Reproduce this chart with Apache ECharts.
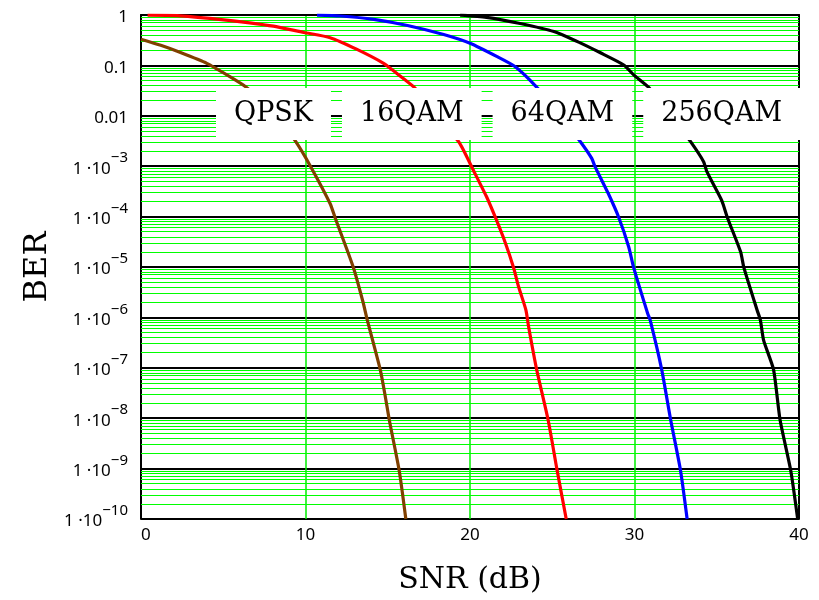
<!DOCTYPE html>
<html>
<head>
<meta charset="utf-8">
<script src="https://cdn.jsdelivr.net/npm/echarts@6/dist/echarts.min.js"></script>
<style>
  html, body { margin: 0; padding: 0; background: #fff; }
  #main { width: 819px; height: 600px; }
</style>
</head>
<body>
<div id="main"></div>
<script>
// 曲线数据 (SNR dB, BER)
var names = ['QPSK', '16QAM', '64QAM', '256QAM'];
var colors = ['#804000', '#ff0000', '#0000ff', '#000000'];

var qpskSnr = [0, 1.2, 2.4, 4.0, 5.4, 6.4, 7.6, 8.5, 9.4, 10.3, 11.5, 11.8, 12.9, 13.5, 13.75, 14.55, 14.85, 15.1, 15.7, 16.1];
var qpskBer = [0.33, 0.25, 0.18, 0.11, 0.06, 0.037, 0.016, 0.0075, 3.1e-3, 1e-3, 1.8e-4, 9.5e-5, 1e-5, 2e-6, 9e-7, 9e-8, 2.7e-8, 9e-9, 9e-10, 1e-10];

var qam16Snr = [0.4, 2.2, 4.6, 6.6, 8.05, 9.9, 11.5, 13.1, 14.75, 15.35, 16.6, 17.5, 18.4, 19.3, 19.6, 20.3, 21.0, 21.55, 22.15, 22.65, 22.95, 23.4, 23.56, 24.05, 24.75, 25.3, 25.85];
var qam16Ber = [0.99, 0.97, 0.83, 0.70, 0.60, 0.45, 0.355, 0.21, 0.11, 0.078, 0.037, 0.016, 0.007, 3.1e-3, 2.1e-3, 7.2e-4, 2.5e-4, 9.5e-5, 3e-5, 9.7e-6, 4.1e-6, 1.4e-6, 6.6e-7, 9.3e-8, 9.2e-9, 9.1e-10, 1e-10];

var qam64Snr = [10.7, 12.1, 14.15, 16.2, 18.4, 20.0, 21.65, 22.75, 24.05, 25.0, 25.9, 26.7, 27.4, 27.6, 28.4, 29.05, 29.65, 29.95, 30.8, 30.95, 31.65, 32.2, 32.8, 33.2];
var qam64Ber = [0.995, 0.955, 0.82, 0.62, 0.41, 0.275, 0.149, 0.094, 0.037, 0.015, 0.0065, 3.1e-3, 1.43e-3, 9.8e-4, 2.9e-4, 9.5e-5, 2.5e-5, 9.7e-6, 1.2e-6, 8.9e-7, 9.3e-8, 9.2e-9, 9.1e-10, 1e-10];

var qam256Snr = [19.4, 21.0, 23.05, 25.1, 26.7, 27.9, 29.35, 29.95, 30.85, 31.7, 32.6, 33.4, 34.2, 34.4, 35.3, 35.65, 36.45, 36.65, 37.45, 37.65, 37.85, 38.45, 38.85, 39.5, 39.92];
var qam256Ber = [0.995, 0.9, 0.68, 0.47, 0.28, 0.18, 0.102, 0.065, 0.037, 0.016, 0.0068, 3.1e-3, 1.23e-3, 7.8e-4, 2.1e-4, 9.5e-5, 2e-5, 9.7e-6, 1.4e-6, 8.9e-7, 3.5e-7, 9.3e-8, 9.2e-9, 9.1e-10, 1e-10];

// y 轴刻度 (log10 BER)
var yTicks = [0, -1, -2, -3, -4, -5, -6, -7, -8, -9, -10];
var xTicks = [0, 10, 20, 30, 40];

var snrList = [qpskSnr, qam16Snr, qam64Snr, qam256Snr];
var berList = [qpskBer, qam16Ber, qam64Ber, qam256Ber];

function toPoints(snr, ber) {
  var pts = [];
  for (var i = 0; i < snr.length; i++) {
    pts.push([snr[i], Math.log10(ber[i])]);
  }
  return pts;
}

// 次网格线 (2..9 × 10^n)
var minorLines = [];
for (var n = -10; n < 0; n++) {
  for (var k = 2; k <= 9; k++) {
    minorLines.push({ yAxis: n + Math.log10(k) });
  }
}

function yLabel(v) {
  v = Math.round(v);
  if (v === 0) return '1';
  if (v === -1) return '0.1';
  if (v === -2) return '0.01';
  return '{a|1 \u00B710}{b|\u2212' + (-v) + '}';
}

var series = [{
  name: 'grid',
  type: 'line',
  data: [],
  z: 1,
  silent: true,
  markLine: {
    silent: true,
    z: 1,
    symbol: ['none', 'none'],
    label: { show: false },
    lineStyle: { color: '#00ff00', width: 1, type: 'solid' },
    emphasis: { disabled: true },
    animation: false,
    data: minorLines
  }
}];

for (var i = 0; i < names.length; i++) {
  series.push({
    name: names[i],
    type: 'line',
    data: toPoints(snrList[i], berList[i]),
    showSymbol: false,
    smooth: 0.2,
    z: 3,
    lineStyle: { color: colors[i], width: 3.2 },
    itemStyle: { color: colors[i] }
  });
}

var chart = echarts.init(document.getElementById('main'), null, { renderer: 'canvas' });

var option = {
  animation: false,
  backgroundColor: '#fff',
  grid: { left: 141, right: 20, top: 15, bottom: 80, containLabel: false },
  legend: {
    data: names,
    left: 211,
    top: 88,
    z: 10,
    icon: 'none',
    itemWidth: 0,
    itemHeight: 0,
    itemGap: 6,
    selectedMode: false,
    padding: 0,
    textStyle: {
      fontFamily: 'DejaVu Serif',
      fontSize: 27,
      color: '#000',
      backgroundColor: '#fff',
      lineHeight: 28,
      padding: [15, 18, 9, 18]
    }
  },
  xAxis: {
    type: 'value',
    min: xTicks[0],
    max: xTicks[xTicks.length - 1],
    interval: 10,
    name: 'SNR (dB)',
    nameLocation: 'middle',
    nameGap: 46,
    nameTextStyle: { fontFamily: 'DejaVu Serif', fontSize: 30, color: '#000' },
    axisLine: { show: true, lineStyle: { color: '#000', width: 2 } },
    axisTick: { show: false },
    axisLabel: {
      fontFamily: 'Noto Sans',
      fontSize: 17,
      color: '#000',
      margin: 8,
      alignMinLabel: 'left'
    },
    splitLine: {
      show: true,
      showMinLine: false,
      showMaxLine: false,
      lineStyle: { color: '#00ee00', width: 1.5 }
    }
  },
  yAxis: [{
    type: 'value',
    min: yTicks[yTicks.length - 1],
    max: yTicks[0],
    interval: 1,
    name: 'BER',
    nameLocation: 'middle',
    nameGap: 86,
    nameTextStyle: { fontFamily: 'DejaVu Serif', fontSize: 32, color: '#000' },
    axisLine: { show: true, lineStyle: { color: '#000', width: 2 } },
    axisTick: { show: false },
    axisLabel: {
      fontFamily: 'Noto Sans',
      fontSize: 17,
      color: '#000',
      margin: 13,
      padding: [5, 0, 0, 0],
      formatter: yLabel,
      rich: {
        a: { fontFamily: 'Noto Sans', fontSize: 17, color: '#000', lineHeight: 36 },
        b: { fontFamily: 'Noto Sans', fontSize: 15, color: '#000', lineHeight: 15, verticalAlign: 'top' }
      }
    },
    splitLine: { show: true, lineStyle: { color: '#000', width: 2 } }
  }, {
    type: 'value',
    position: 'right',
    min: -10,
    max: 0,
    interval: 1,
    axisLine: { show: true, lineStyle: { color: '#000', width: 2 } },
    axisTick: { show: false },
    axisLabel: { show: false },
    splitLine: { show: false }
  }],
  series: series
};

chart.setOption(option);
</script>
</body>
</html>
